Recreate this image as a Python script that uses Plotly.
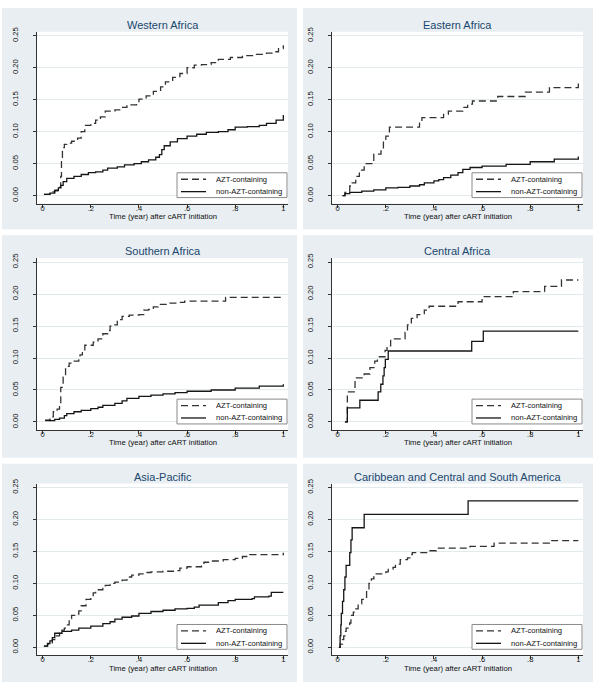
import plotly.graph_objects as go

# ---------------- data ----------------
titles = ["Western Africa", "Eastern Africa", "Southern Africa",
          "Central Africa", "Asia-Pacific", "Caribbean and Central and South America"]
series_names = ["AZT-containing", "non-AZT-containing"]
x_tickvals = [0, 0.2, 0.4, 0.6, 0.8, 1.0]
x_ticktext = ["0", ".2", ".4", ".6", ".8", "1"]
y_tickvals = [0, 0.05, 0.10, 0.15, 0.20, 0.25]
y_ticktext = ["0.00", "0.05", "0.10", "0.15", "0.20", "0.25"]
x_title = "Time (year) after cART initiation"

# Western Africa
w_azt_x = [0.005, 0.02, 0.03, 0.04, 0.05, 0.06, 0.07, 0.075, 0.078, 0.082, 0.09, 0.10, 0.12, 0.145, 0.16, 0.175,
           0.20, 0.22, 0.24, 0.26, 0.30, 0.32, 0.35, 0.39, 0.40, 0.43, 0.46, 0.49, 0.51, 0.54, 0.57, 0.60, 0.63,
           0.66, 0.70, 0.73, 0.78, 0.83, 0.88, 0.93, 0.96, 0.98, 1.00]
w_azt_y = [0.002, 0.002, 0.004, 0.006, 0.008, 0.010, 0.013, 0.030, 0.060, 0.075, 0.080, 0.082, 0.085, 0.090, 0.100, 0.110,
           0.113, 0.118, 0.123, 0.132, 0.134, 0.138, 0.142, 0.145, 0.151, 0.156, 0.163, 0.170, 0.178, 0.185, 0.191, 0.200, 0.204,
           0.205, 0.208, 0.213, 0.216, 0.219, 0.221, 0.223, 0.225, 0.230, 0.235]
w_non_x = [0.005, 0.03, 0.05, 0.065, 0.075, 0.085, 0.10, 0.13, 0.16, 0.19, 0.22, 0.25, 0.27, 0.31, 0.34, 0.38, 0.41,
           0.44, 0.47, 0.485, 0.495, 0.505, 0.53, 0.56, 0.60, 0.64, 0.68, 0.73, 0.77, 0.80, 0.85, 0.90, 0.93, 0.97, 1.00]
w_non_y = [0.002, 0.004, 0.008, 0.012, 0.016, 0.022, 0.027, 0.030, 0.033, 0.036, 0.037, 0.040, 0.043, 0.045, 0.048, 0.050, 0.053,
           0.056, 0.060, 0.064, 0.072, 0.078, 0.084, 0.089, 0.093, 0.096, 0.099, 0.100, 0.103, 0.107, 0.108, 0.110, 0.113, 0.118, 0.126]

# Eastern Africa
e_azt_x = [0.02, 0.03, 0.05, 0.06, 0.075, 0.09, 0.11, 0.15, 0.18, 0.19, 0.20, 0.215, 0.34, 0.35, 0.44, 0.46, 0.51,
           0.52, 0.54, 0.56, 0.665, 0.78, 0.88, 1.00]
e_azt_y = [0.0, 0.005, 0.015, 0.020, 0.030, 0.040, 0.050, 0.065, 0.070, 0.088, 0.093, 0.107, 0.115, 0.122, 0.127, 0.132, 0.132,
           0.138, 0.143, 0.148, 0.155, 0.162, 0.169, 0.179]
e_non_x = [0.02, 0.03, 0.05, 0.10, 0.15, 0.20, 0.25, 0.30, 0.34, 0.36, 0.40, 0.42, 0.44, 0.47, 0.50, 0.52, 0.55, 0.60,
           0.70, 0.80, 0.90, 1.00]
e_non_y = [0.0, 0.003, 0.005, 0.007, 0.009, 0.012, 0.013, 0.015, 0.017, 0.020, 0.023, 0.025, 0.028, 0.032, 0.036, 0.041, 0.044, 0.046,
           0.049, 0.053, 0.057, 0.061]

# Southern Africa
s_azt_x = [0.01, 0.02, 0.03, 0.044, 0.06, 0.07, 0.075, 0.085, 0.095, 0.11, 0.12, 0.15, 0.155, 0.165, 0.175, 0.20, 0.21,
           0.23, 0.25, 0.27, 0.28, 0.30, 0.31, 0.33, 0.36, 0.40, 0.42, 0.44, 0.46, 0.48, 0.52, 0.56, 0.59, 0.76, 1.00]
s_azt_y = [0.002, 0.002, 0.008, 0.016, 0.020, 0.026, 0.054, 0.070, 0.087, 0.092, 0.095, 0.097, 0.105, 0.110, 0.120, 0.120, 0.125,
           0.130, 0.138, 0.143, 0.150, 0.152, 0.160, 0.165, 0.167, 0.168, 0.175, 0.176, 0.180, 0.184, 0.186, 0.187, 0.189, 0.195, 0.195]
s_non_x = [0.01, 0.03, 0.05, 0.07, 0.09, 0.10, 0.13, 0.16, 0.20, 0.23, 0.25, 0.30, 0.33, 0.35, 0.40, 0.45, 0.50, 0.55,
           0.60, 0.70, 0.80, 0.90, 1.00]
s_non_y = [0.003, 0.002, 0.004, 0.006, 0.010, 0.013, 0.016, 0.018, 0.021, 0.023, 0.026, 0.029, 0.033, 0.037, 0.040, 0.042, 0.044, 0.046,
           0.048, 0.050, 0.053, 0.056, 0.059]

# Central Africa
c_azt_x = [0.03, 0.04, 0.072, 0.11, 0.134, 0.154, 0.165, 0.197, 0.205, 0.22, 0.28, 0.29, 0.306, 0.33, 0.36, 0.38, 0.50,
           0.60, 0.73, 0.86, 0.93, 1.00]
c_azt_y = [0.0, 0.047, 0.069, 0.075, 0.085, 0.095, 0.102, 0.112, 0.119, 0.130, 0.140, 0.152, 0.162, 0.168, 0.175, 0.181, 0.188,
           0.196, 0.204, 0.212, 0.222, 0.222]
c_non_x = [0.03, 0.04, 0.092, 0.168, 0.179, 0.188, 0.193, 0.198, 0.21, 0.557, 0.605, 1.00]
c_non_y = [0.0, 0.022, 0.034, 0.047, 0.059, 0.072, 0.085, 0.098, 0.111, 0.126, 0.142, 0.142]

# Asia-Pacific
a_azt_x = [0.005, 0.02, 0.04, 0.05, 0.07, 0.08, 0.09, 0.10, 0.11, 0.12, 0.14, 0.15, 0.16, 0.18, 0.20, 0.21, 0.22, 0.25,
           0.26, 0.28, 0.30, 0.33, 0.35, 0.37, 0.40, 0.42, 0.45, 0.50, 0.55, 0.57, 0.60, 0.66, 0.67, 0.70, 0.75, 0.80,
           0.83, 0.86, 0.95, 1.00]
a_azt_y = [0.002, 0.005, 0.012, 0.018, 0.022, 0.027, 0.030, 0.035, 0.045, 0.050, 0.052, 0.057, 0.065, 0.075, 0.078, 0.085, 0.090, 0.092,
           0.097, 0.100, 0.102, 0.105, 0.110, 0.113, 0.115, 0.117, 0.118, 0.119, 0.120, 0.124, 0.126, 0.127, 0.133, 0.135, 0.137, 0.139,
           0.142, 0.145, 0.145, 0.148]
a_non_x = [0.005, 0.02, 0.03, 0.04, 0.05, 0.07, 0.08, 0.12, 0.15, 0.20, 0.25, 0.28, 0.30, 0.33, 0.37, 0.40, 0.45, 0.50,
           0.55, 0.60, 0.63, 0.65, 0.70, 0.73, 0.77, 0.80, 0.87, 0.88, 0.94, 0.95, 1.00]
a_non_y = [0.002, 0.006, 0.010, 0.015, 0.022, 0.022, 0.025, 0.027, 0.030, 0.033, 0.037, 0.040, 0.044, 0.047, 0.049, 0.053, 0.056, 0.058,
           0.060, 0.061, 0.063, 0.066, 0.066, 0.070, 0.073, 0.075, 0.076, 0.079, 0.080, 0.086, 0.086]

# Caribbean and Central and South America
l_azt_x = [0.005, 0.01, 0.02, 0.025, 0.03, 0.035, 0.05, 0.055, 0.065, 0.075, 0.085, 0.10, 0.12, 0.13, 0.14, 0.15, 0.16,
           0.20, 0.21, 0.23, 0.24, 0.26, 0.29, 0.30, 0.31, 0.38, 0.41, 0.55, 0.65, 0.88, 1.00]
l_azt_y = [0.0, 0.005, 0.012, 0.018, 0.025, 0.030, 0.038, 0.050, 0.055, 0.060, 0.068, 0.075, 0.090, 0.100, 0.107, 0.110, 0.115,
           0.118, 0.122, 0.125, 0.130, 0.137, 0.140, 0.145, 0.148, 0.151, 0.155, 0.158, 0.163, 0.167, 0.167]
l_non_x = [0.005, 0.01, 0.013, 0.015, 0.02, 0.025, 0.03, 0.035, 0.05, 0.055, 0.06, 0.11, 0.542, 1.00]
l_non_y = [0.0, 0.018, 0.035, 0.053, 0.072, 0.090, 0.110, 0.128, 0.148, 0.168, 0.187, 0.208, 0.229, 0.229]

panel_data = [
    ((w_azt_x, w_azt_y), (w_non_x, w_non_y)),
    ((e_azt_x, e_azt_y), (e_non_x, e_non_y)),
    ((s_azt_x, s_azt_y), (s_non_x, s_non_y)),
    ((c_azt_x, c_azt_y), (c_non_x, c_non_y)),
    ((a_azt_x, a_azt_y), (a_non_x, a_non_y)),
    ((l_azt_x, l_azt_y), (l_non_x, l_non_y)),
]

# ---------------- layout geometry (pixels) ----------------
W, H = 600, 689
FONT = "Liberation Sans, Arial, sans-serif"
PANEL_BG = "#e8eef2"
TITLE_COL = "#1a476f"
col_bg = [(2, 297), (303, 593)]
row_bg = [(3, 226), (232, 456), (462, 682)]
col_plot = [(37, 288), (332, 583)]
row_plot = [(27, 200), (255, 428), (482, 655)]
x_range = [-0.0237, 1.0195]
y_range = [-0.0124, 0.2562]
dash_style = "7px,4px"
line_styles = [dict(color="#333333", width=1.3, dash=dash_style, shape="hv"),
               dict(color="#151515", width=1.3, dash="solid", shape="hv")]


def fx(px):
    return px / W


def fy(py):
    return 1 - py / H


fig = go.Figure()
shapes = []
annotations = []

for i, (title, data) in enumerate(zip(titles, panel_data)):
    r, c = divmod(i, 2)
    n = i + 1
    xa = "x" if n == 1 else f"x{n}"
    ya = "y" if n == 1 else f"y{n}"
    (bx0, bx1), (by0, by1) = col_bg[c], row_bg[r]
    (px0, px1), (py0, py1) = col_plot[c], row_plot[r]

    # panel background and white plot region
    shapes.append(dict(type="rect", xref="paper", yref="paper", x0=fx(bx0), x1=fx(bx1), y0=fy(by1), y1=fy(by0),
                       fillcolor=PANEL_BG, line=dict(width=0), layer="below"))
    shapes.append(dict(type="rect", xref="paper", yref="paper", x0=fx(px0), x1=fx(px1), y0=fy(py1), y1=fy(py0),
                       fillcolor="white", line=dict(width=0), layer="below"))

    for (xs, ys), name, st in zip(data, series_names, line_styles):
        fig.add_trace(go.Scatter(x=xs, y=ys, mode="lines", name=name, showlegend=False,
                                 line=st, xaxis=xa, yaxis=ya, hoverinfo="skip"))

    axname_x = "xaxis" if n == 1 else f"xaxis{n}"
    axname_y = "yaxis" if n == 1 else f"yaxis{n}"
    fig.layout[axname_x] = dict(domain=[fx(px0), fx(px1)], range=x_range, anchor=ya,
                                tickvals=x_tickvals, ticktext=x_ticktext, showgrid=False, zeroline=False,
                                showline=True, linecolor="#333", linewidth=1, ticks="outside", ticklen=3,
                                tickcolor="#333", tickfont=dict(family=FONT, size=7.6, color="#111"),
                                ticklabelstandoff=-6, fixedrange=True)
    fig.layout[axname_y] = dict(domain=[fy(py1), fy(py0)], range=y_range, anchor=xa,
                                tickvals=y_tickvals, ticktext=y_ticktext, showgrid=True, gridcolor="#e3eaee",
                                gridwidth=1, zeroline=False, showline=True, linecolor="#333", linewidth=1,
                                ticks="outside", ticklen=3, tickcolor="#333", tickangle=-90,
                                tickfont=dict(family=FONT, size=7.6, color="#111"), ticklabelstandoff=12,
                                fixedrange=True)

    # panel title
    annotations.append(dict(text=title, xref="paper", yref="paper", x=fx((px0 + px1) / 2), y=fy(py0 - 7),
                            xanchor="center", yanchor="middle", showarrow=False,
                            font=dict(family=FONT, size=11, color=TITLE_COL)))
    # x-axis title
    annotations.append(dict(text=x_title, xref="paper", yref="paper", x=fx((px0 + px1) / 2), y=fy(py1 + 13),
                            xanchor="center", yanchor="middle", showarrow=False,
                            font=dict(family=FONT, size=7.7, color="#111")))

    # legend box
    lr = px1 - 1
    ll = lr - 110
    lb = py1 - 6
    lt = lb - 25
    shapes.append(dict(type="rect", xref="paper", yref="paper", x0=fx(ll), x1=fx(lr), y0=fy(lb), y1=fy(lt),
                       fillcolor="white", line=dict(color="#8a8a8a", width=1), layer="above"))
    for k, (name, st) in enumerate(zip(series_names, line_styles)):
        yc = lt + 6.5 + 12.5 * k
        shapes.append(dict(type="line", xref="paper", yref="paper", x0=fx(ll + 4), x1=fx(ll + 29),
                           y0=fy(yc), y1=fy(yc), line=dict(color=st["color"], width=st["width"], dash=st["dash"]),
                           layer="above"))
        annotations.append(dict(text=name, xref="paper", yref="paper", x=fx(ll + 37), y=fy(yc),
                                xanchor="left", yanchor="middle", showarrow=False,
                                font=dict(family=FONT, size=7.6, color="#111")))

fig.update_layout(width=W, height=H, margin=dict(l=0, r=0, t=0, b=0), paper_bgcolor="white",
                  plot_bgcolor="rgba(0,0,0,0)", shapes=shapes, annotations=annotations, showlegend=False)

fig.write_html("out.html", config={"displayModeBar": False, "staticPlot": True},
               post_script="document.body.style.margin='0';document.body.style.overflow='hidden';")
